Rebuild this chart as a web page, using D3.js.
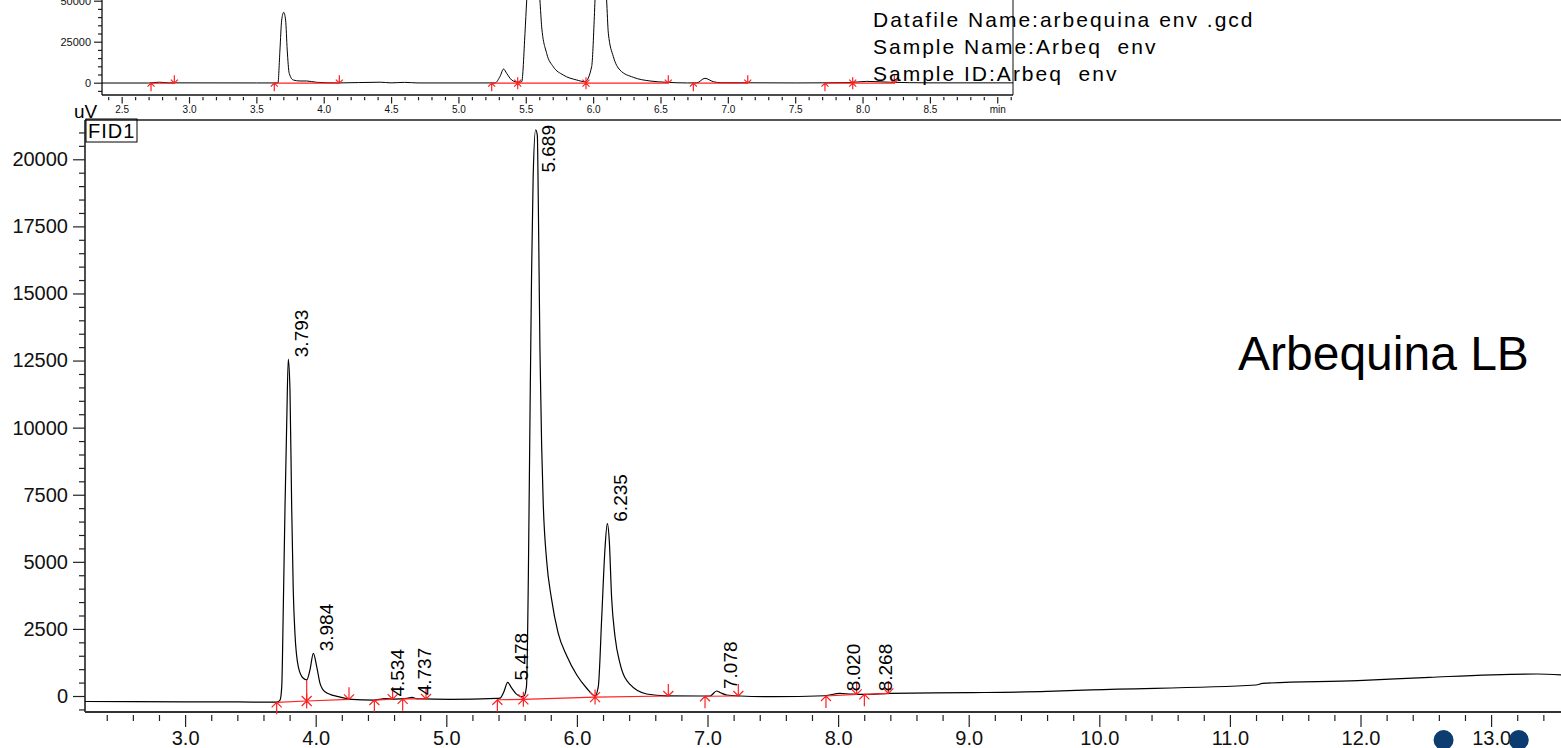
<!DOCTYPE html>
<html>
<head>
<meta charset="utf-8">
<script src="https://cdn.jsdelivr.net/npm/d3@7"></script>
<style>
body { margin: 0; background: #fff; }
text { font-family: "Liberation Sans", Arial, sans-serif; }
</style>
</head>
<body>
<script>
// ---- data ----
// main run: [time (min), signal (uV)]
var mainTrace = [
  [2.233, -205], [2.6, -210], [3.0, -215], [3.4, -220], [3.70, -230], [3.727, -150],
  [3.740, 350], [3.752, 3330], [3.765, 7050], [3.778, 10160], [3.790, 12550], [3.803, 11400],
  [3.816, 7050], [3.828, 3950], [3.841, 2340], [3.867, 1090], [3.905, 660], [3.931, 600],
  [3.956, 970], [3.982, 1590], [4.008, 1090], [4.033, 470], [4.071, 160], [4.173, -25],
  [4.276, -125], [4.44, -150], [4.534, -95], [4.60, -115], [4.70, -90], [4.737, -50],
  [4.773, -100], [5.03, -125], [5.386, -90], [5.411, -80], [5.44, 150], [5.470, 505],
  [5.50, 300], [5.535, 80], [5.570, -20], [5.595, 0], [5.614, 360], [5.628, 4350],
  [5.640, 10050], [5.653, 15760], [5.665, 19330], [5.684, 21100], [5.697, 20890], [5.704, 18600],
  [5.717, 12900], [5.730, 9340], [5.742, 7200], [5.768, 5060], [5.805, 3640], [5.856, 2355],
  [5.922, 1500], [5.998, 790], [6.075, 290], [6.139, 5], [6.164, 360], [6.190, 2925],
  [6.215, 5490], [6.233, 6420], [6.248, 5780], [6.266, 3640], [6.292, 2210], [6.330, 1215],
  [6.407, 430], [6.534, 75], [6.687, 5], [6.942, 0], [7.019, 0], [7.070, 186], [7.10, 120],
  [7.147, 37], [7.25, 0], [7.5, -25], [7.9, 10], [8.013, 100], [8.1, 70], [8.219, 62],
  [8.4, 100], [9.0, 124], [9.6, 170], [9.94, 230], [11.20, 410], [11.25, 470], [11.98, 570],
  [12.53, 697], [13.35, 820], [13.535, 790]
];

// integration marks of the main run: time, baseline value, kind, signal at drop
var mainEvents = [
  [3.701, -235, "start"], [3.931, -186, "drop", 600], [4.255, -123, "end"],
  [4.449, -150, "start"], [4.589, -115, "end"],
  [4.666, -105, "start"], [4.845, -110, "end"],
  [5.391, -140, "start"], [5.590, -125, "drop", -20], [6.139, -40, "drop", 5], [6.700, 0, "end"],
  [6.981, -10, "start"], [7.236, 0, "end"],
  [7.907, 0, "start"], [8.142, 60, "end"],
  [8.201, 62, "start"], [8.385, 100, "end"]
];

var peakTimes = [3.793, 3.984, 4.534, 4.737, 5.478, 5.689, 6.235, 7.078, 8.020, 8.268];
var peakHeights = [12550, 1590, -95, -50, 505, 21100, 6420, 186, 100, 100];

// overview run (top panel)
var insetTrace = [
  [2.354, -200], [2.70, -200], [2.78, 300], [2.85, -100], [3.5, -150], [3.66, -150],
  [3.675, 19900], [3.688, 38200], [3.703, 42900], [3.717, 38200], [3.729, 19900], [3.744, 5700],
  [3.774, 1650], [3.824, 1040], [3.873, 1040], [3.948, 240], [4.1, -150], [4.42, 300],
  [4.5, -100], [4.6, 200], [4.7, -150], [5.271, -150], [5.31, 4000], [5.335, 8350],
  [5.358, 5700], [5.395, 1650], [5.420, 610], [5.445, 300], [5.470, 610], [5.494, 30100],
  [5.507, 50400], [5.556, 95000], [5.605, 50400], [5.618, 34100], [5.655, 17900], [5.704, 9760],
  [5.778, 4700], [5.878, 1650], [5.940, 610], [5.989, 9760], [6.009, 40200], [6.014, 50400],
  [6.057, 80000], [6.100, 50400], [6.113, 30100], [6.150, 15900], [6.199, 7740], [6.298, 3290],
  [6.422, 1040], [6.546, 240], [6.70, -150], [6.769, -100], [6.830, 2680], [6.892, 610],
  [6.95, 0], [7.5, -150], [7.9, 100], [8.03, 800], [8.2, 300], [8.5, -100], [9.117, -100]
];

var insetEvents = [
  [2.718, -300, "start"], [2.891, -300, "end"],
  [3.633, -300, "start"], [4.116, -300, "end"],
  [5.247, -300, "start"], [5.440, -300, "drop", 300], [5.947, -300, "drop", 610], [6.558, -300, "end"],
  [6.744, -300, "start"], [7.148, -300, "end"],
  [7.721, -300, "start"], [7.927, -300, "drop", 300], [8.236, -300, "end"]
];

var mainXTicks = [3, 4, 5, 6, 7, 8, 9, 10, 11, 12, 13];
var mainYTicks = [0, 2500, 5000, 7500, 10000, 12500, 15000, 17500, 20000];
var insetXTicks = [2.5, 3.0, 3.5, 4.0, 4.5, 5.0, 5.5, 6.0, 6.5, 7.0, 7.5, 8.0, 8.5, 9.0];
var insetYTicks = [0, 25000, 50000];

var infoLines = ["Datafile Name:arbequina env .gcd", "Sample Name:Arbeq  env", "Sample ID:Arbeq  env"];
var navDots = [12.636, 13.212];

// ---- page ----
var W = 1561, H = 748;
var svg = d3.select("body").append("svg")
  .attr("width", W).attr("height", H)
  .style("display", "block");

var x = d3.scaleLinear().domain([2.2335, 13.5352]).range([85, 1561]);
var y = d3.scaleLinear().domain([-596, 21464]).range([712, 120]);
var xi = d3.scaleLinear().domain([2.354, 9.117]).range([102, 1013]);
var yi = d3.scaleLinear().domain([-7500, 50427]).range([95, 0]);

var red = "#ff2020";
var intFmt = d3.format("d");

var defs = svg.append("defs");
defs.append("clipPath").attr("id", "clipMain").append("rect")
  .attr("x", 85).attr("y", 120).attr("width", W - 85).attr("height", 592);
defs.append("clipPath").attr("id", "clipInset").append("rect")
  .attr("x", 102).attr("y", -200).attr("width", 911).attr("height", 295);

function minorOf(lo, hi, step, majors) {
  return d3.range(lo, hi + step / 2, step)
    .map(function(v) { return +v.toFixed(4); })
    .filter(function(v) { return majors.every(function(m) { return Math.abs(m - v) > 1e-6; }); });
}

function styleTicks(g) {
  g.select(".domain").remove();
  g.selectAll(".tick line").attr("stroke", "#222").attr("stroke-width", 1.2);
  g.selectAll(".tick text").attr("fill", "#111");
}

// ---- inset panel ----
var inset = svg.append("g");

inset.append("g").attr("transform", "translate(0,97)")
  .call(d3.axisBottom(xi).tickValues(minorOf(2.4, 9.1, 0.1, insetXTicks)).tickSize(3.3).tickFormat(""))
  .call(styleTicks);
inset.append("g").attr("transform", "translate(0,97)")
  .call(d3.axisBottom(xi).tickValues(insetXTicks).tickSize(6.5).tickPadding(2.7)
    .tickFormat(function(d) { return d === 9 ? "min" : d3.format(".1f")(d); }))
  .call(styleTicks)
  .attr("font-size", 10);

inset.append("g").attr("transform", "translate(102,0)")
  .call(d3.axisLeft(yi).tickValues(minorOf(-5000, 50000, 5000, insetYTicks)).tickSize(4).tickFormat(""))
  .call(styleTicks);
inset.append("g").attr("transform", "translate(102,0)")
  .call(d3.axisLeft(yi).tickValues(insetYTicks).tickSize(8).tickPadding(3).tickFormat(intFmt))
  .call(styleTicks)
  .attr("font-size", 11);

inset.append("line").attr("x1", 102).attr("x2", 102).attr("y1", 0).attr("y2", 95)
  .attr("stroke", "#111").attr("stroke-width", 1.3);
inset.append("line").attr("x1", 102).attr("x2", 1013).attr("y1", 95).attr("y2", 95)
  .attr("stroke", "#111").attr("stroke-width", 1.3);
inset.append("line").attr("x1", 1013).attr("x2", 1013).attr("y1", 0).attr("y2", 95)
  .attr("stroke", "#111").attr("stroke-width", 1);

var insetLine = d3.line()
  .x(function(d) { return xi(d[0]); })
  .y(function(d) { return yi(d[1]); })
  .curve(d3.curveMonotoneX);

inset.append("path").datum(insetTrace)
  .attr("clip-path", "url(#clipInset)")
  .attr("d", insetLine)
  .attr("fill", "none").attr("stroke", "#000").attr("stroke-width", 1);

// ---- integration marks ----
function segmentsOf(events) {
  var segs = [], cur = null;
  events.forEach(function(e) {
    if (e[2] === "start") { cur = [e]; segs.push(cur); }
    else if (cur) { cur.push(e); if (e[2] === "end") cur = null; }
  });
  return segs;
}

function markPath(kind, s, h, hs) {
  if (kind === "start") return "M0,0L0," + s + "M" + (-h) + "," + h + "L0,0L" + h + "," + h;
  if (kind === "end") return "M0,0L0," + (-s) + "M" + (-h) + "," + (-h) + "L0,0L" + h + "," + (-h);
  return "M0," + (-hs) + "L0," + hs + "M" + (-h) + "," + (-h) + "L" + h + "," + h +
    "M" + (-h) + "," + h + "L" + h + "," + (-h);
}

function drawEvents(g, events, xs, ys, s, h, hs) {
  var bl = d3.line().x(function(e) { return xs(e[0]); }).y(function(e) { return ys(e[1]); });
  g.selectAll("path.base").data(segmentsOf(events)).join("path")
    .attr("class", "base")
    .attr("d", bl)
    .attr("fill", "none").attr("stroke", red).attr("stroke-width", 1.2);
  g.selectAll("line.drop").data(events.filter(function(e) { return e[2] === "drop"; })).join("line")
    .attr("class", "drop")
    .attr("x1", function(e) { return xs(e[0]); }).attr("x2", function(e) { return xs(e[0]); })
    .attr("y1", function(e) { return ys(e[1]); }).attr("y2", function(e) { return ys(e[3]); })
    .attr("stroke", red).attr("stroke-width", 1.2);
  g.selectAll("path.mark").data(events).join("path")
    .attr("class", "mark")
    .attr("transform", function(e) { return "translate(" + xs(e[0]) + "," + ys(e[1]) + ")"; })
    .attr("d", function(e) { return markPath(e[2], s, h, hs); })
    .attr("fill", "none").attr("stroke", red).attr("stroke-width", 1.2);
}

drawEvents(inset.append("g"), insetEvents, xi, yi, 8, 3.5, 6);

// info text
svg.append("g").selectAll("text").data(infoLines).join("text")
  .attr("x", 873)
  .attr("y", function(d, i) { return 27 + i * 27; })
  .attr("font-size", 21)
  .attr("letter-spacing", 2)
  .style("white-space", "pre")
  .attr("fill", "#000")
  .text(function(d) { return d; });

// ---- main panel ----
var main = svg.append("g");

main.append("line").attr("x1", 85).attr("x2", W).attr("y1", 120).attr("y2", 120)
  .attr("stroke", "#555").attr("stroke-width", 2);

main.append("g").attr("transform", "translate(0,715)")
  .call(d3.axisBottom(x).tickValues(minorOf(2.4, 13.4, 0.2, mainXTicks)).tickSize(6).tickFormat(""))
  .call(styleTicks);
main.append("g").attr("transform", "translate(0,715)")
  .call(d3.axisBottom(x).tickValues(mainXTicks).tickSize(12).tickPadding(4).tickFormat(d3.format(".1f")))
  .call(styleTicks)
  .attr("font-size", 20);

main.append("g").attr("transform", "translate(85,0)")
  .call(d3.axisLeft(y).tickValues(minorOf(-500, 21000, 500, mainYTicks)).tickSize(6).tickFormat(""))
  .call(styleTicks);
main.append("g").attr("transform", "translate(85,0)")
  .call(d3.axisLeft(y).tickValues(mainYTicks).tickSize(12).tickPadding(5).tickFormat(intFmt))
  .call(styleTicks)
  .attr("font-size", 20);

main.append("line").attr("x1", 85).attr("x2", 85).attr("y1", 120).attr("y2", 712)
  .attr("stroke", "#222").attr("stroke-width", 1.6);
main.append("line").attr("x1", 85).attr("x2", W).attr("y1", 712).attr("y2", 712)
  .attr("stroke", "#333").attr("stroke-width", 1.8);

// axis unit + detector box
main.append("text").attr("x", 74).attr("y", 118).attr("font-size", 19).text("uV");
main.append("rect").attr("x", 86).attr("y", 119).attr("width", 51).attr("height", 23)
  .attr("fill", "none").attr("stroke", "#000").attr("stroke-width", 1);
main.append("text").attr("x", 88).attr("y", 138).attr("font-size", 20)
  .attr("letter-spacing", 1).text("FID1");

var mainLine = d3.line()
  .x(function(d) { return x(d[0]); })
  .y(function(d) { return y(d[1]); })
  .curve(d3.curveMonotoneX);

main.append("path").datum(mainTrace)
  .attr("clip-path", "url(#clipMain)")
  .attr("d", mainLine)
  .attr("fill", "none").attr("stroke", "#000").attr("stroke-width", 1.2);

drawEvents(main.append("g"), mainEvents, x, y, 12, 5, 7.5);

// retention time labels
var labels = main.append("g").selectAll("text").data(peakTimes).join("text")
  .attr("font-size", 19)
  .attr("fill", "#000")
  .text(function(d) { return d.toFixed(3); });
labels.attr("transform", function(d, i) {
  var len = this.getComputedTextLength();
  var ly = Math.max(y(peakHeights[i]) - 2, 120 + len + 5);
  return "translate(" + (x(d) + 19) + "," + ly + ")rotate(-90)";
});

main.append("text").attr("x", 1238).attr("y", 370).attr("font-size", 48)
  .attr("fill", "#000").text("Arbequina LB");

// navigation dots over the axis
svg.append("g").selectAll("circle").data(navDots).join("circle")
  .attr("cx", function(d) { return x(d); })
  .attr("cy", 740)
  .attr("r", 10)
  .attr("fill", "#0d3d70");
</script>
</body>
</html>
